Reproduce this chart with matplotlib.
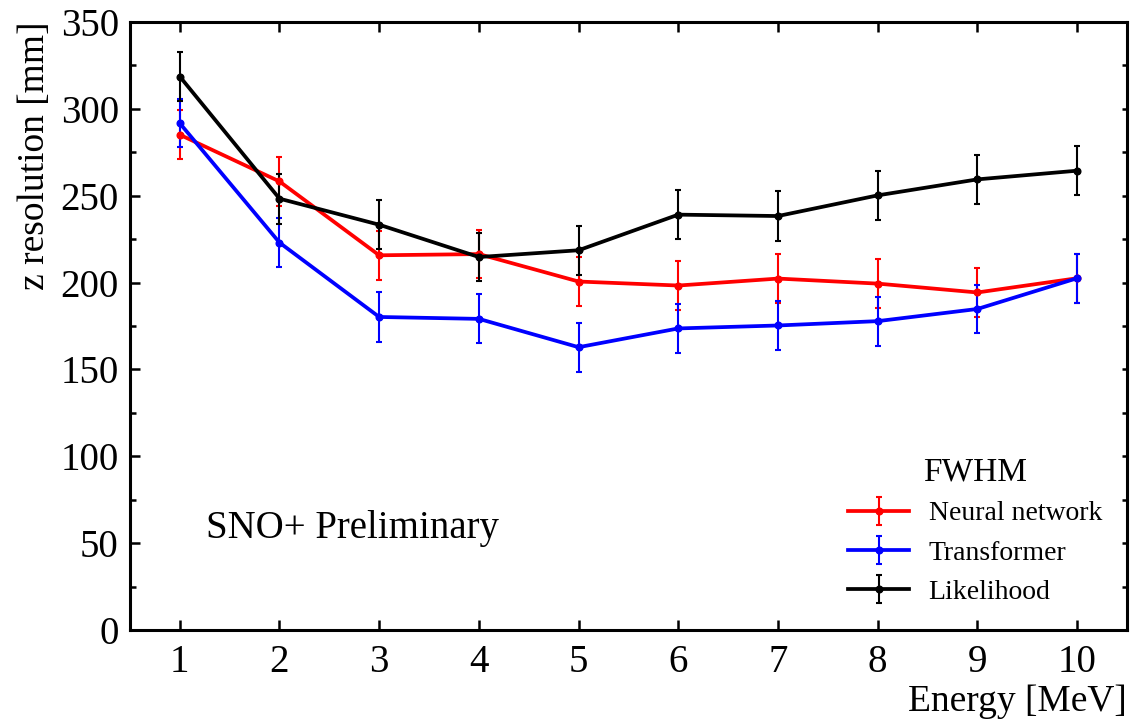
import matplotlib
matplotlib.use("Agg")
import matplotlib.pyplot as plt

energy = [1, 2, 3, 4, 5, 6, 7, 8, 9, 10]
nn_res = [285.1, 258.2, 215.7, 216.4, 200.6, 198.3, 202.3, 199.4, 194.3, 202.5]
nn_err = [14.0, 14.0, 14.0, 14.0, 14.1, 14.0, 14.1, 14.0, 14.1, 14.0]
tr_res = [291.7, 223.0, 180.2, 179.1, 162.8, 173.6, 175.3, 177.8, 184.8, 202.5]
tr_err = [13.8, 14.0, 14.2, 14.1, 14.2, 14.1, 14.1, 14.1, 14.0, 14.0]
lh_res = [318.6, 248.3, 233.3, 214.7, 218.6, 239.1, 238.3, 250.2, 259.4, 264.4]
lh_err = [14.0, 14.3, 14.0, 14.0, 14.0, 14.0, 14.4, 14.2, 14.3, 14.0]

x_ticks = [1, 2, 3, 4, 5, 6, 7, 8, 9, 10]
y_ticks = [0, 50, 100, 150, 200, 250, 300, 350]
y_minor = [25, 75, 125, 175, 225, 275, 325]

plt.rcParams['font.family'] = ['Liberation Serif', 'DejaVu Serif']
plt.rcParams['mathtext.fontset'] = 'stix'

fig = plt.figure(figsize=(11.30, 7.23), dpi=100)
ax = fig.add_axes([0.1150, 0.1286, 0.9973 - 0.1150, 0.9696 - 0.1286])

series = [
    (nn_res, nn_err, '#ff0000', 'Neural network'),
    (tr_res, tr_err, '#0000ff', 'Transformer'),
    (lh_res, lh_err, '#000000', 'Likelihood'),
]
for res, err, col, lab in series:
    ax.errorbar(energy, res, yerr=err, color=col, lw=2.7, marker='o', ms=4.8,
                elinewidth=1.5, capsize=2, capthick=1.5, label=lab)

ax.set_xlim(0.5, 10.5)
ax.set_ylim(0, 350)
ax.set_xticks(x_ticks)
ax.set_yticks(y_ticks)
ax.set_yticks(y_minor, minor=True)

for sp in ax.spines.values():
    sp.set_linewidth(2.2)

ax.tick_params(axis='both', which='major', direction='in', length=7.5, width=1.8,
               labelsize=28, top=True, right=False)
ax.tick_params(axis='y', which='minor', direction='in', length=4.5, width=1.8, right=False)
ax.tick_params(axis='y', which='major', pad=8)
ax.tick_params(axis='x', which='major', pad=10)

sec = ax.secondary_yaxis('right')
sec.set_yticks(y_ticks)
sec.set_yticks(y_minor, minor=True)
sec.tick_params(which='both', direction='in', length=3.8, width=1.8, labelright=False)
sec.spines['right'].set_visible(False)

ax.set_xlabel('Energy [MeV]', fontsize=27, loc='right', labelpad=2.5)
ax.set_ylabel('z resolution [mm]', fontsize=27, loc='top', labelpad=6)

ax.text(0.076, 0.152, 'SNO+ Preliminary', transform=ax.transAxes, fontsize=28,
        ha='left', va='baseline')

leg = ax.legend(loc='lower right', bbox_to_anchor=(1.0, 0.0), frameon=False,
                fontsize=20, title='FWHM', title_fontsize=24,
                handlelength=2.2, handletextpad=0.7, labelspacing=0.5)

fig.savefig('out.png', dpi=100)
